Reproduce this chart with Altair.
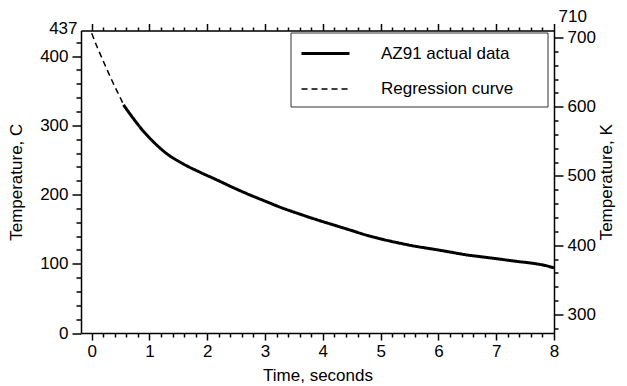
import altair as alt
import pandas as pd

# ---- data ----
series_names = ["AZ91 actual data", "Regression curve"]

actual_t = [0.55, 0.72, 0.89, 1.07, 1.3, 1.59, 1.88, 2.17, 2.45, 2.75, 3.0, 3.3, 3.61, 3.9,
            4.19, 4.5, 4.77, 5.05, 5.34, 5.62, 5.92, 6.2, 6.5, 6.8, 7.08, 7.35, 7.65, 7.85, 8.0]
actual_T = [329.5, 310, 292, 276, 259, 244, 232, 221, 210, 199, 190.5, 180.5, 171.5, 163.5,
            156, 148, 141, 135, 129.6, 125, 121, 117, 112.7, 109.5, 106.5, 103.5, 100.5, 97.5, 94]

reg_t = [0.0, 0.1, 0.2, 0.3, 0.4, 0.5, 0.55]
reg_T = [433, 412, 393, 374, 356, 339, 330]

x_ticks = [round(i * 0.2, 1) for i in range(41)]
c_ticks = list(range(0, 421, 20)) + [437]
k_ticks = list(range(280, 701, 20)) + [710]

df = pd.concat([
    pd.DataFrame({"t": actual_t, "T": actual_T, "series": series_names[0]}),
    pd.DataFrame({"t": reg_t, "T": reg_T, "series": series_names[1]}),
], ignore_index=True)
df["K"] = df["T"] + 273.15

FONT = "Liberation Sans"
FS = 17
x_dom = [-0.185, 8.0]

legend = alt.Legend(
    title=None, orient="none", legendX=209.5, legendY=2,
    symbolType="M-1,0H3.8", symbolSize=400, symbolStrokeColor="black",
    labelOffset=58, labelFontSize=FS, labelFont=FONT, labelColor="black",
    labelLimit=0, padding=9.5, rowPadding=16,
    strokeColor="#333333", fillColor="white",
    labelExpr="datum.label + '\u2800\u2800'",
)

axis_common = dict(
    grid=False, domainColor="black", domainWidth=1.5, tickColor="black", tickWidth=1.5,
    labelFont=FONT, labelFontSize=FS, labelColor="black", labelOverlap=False,
    labelFlush=False, titleFont=FONT, titleFontSize=FS, titleFontWeight="normal",
    titleColor="black",
)

lines = alt.Chart(df).mark_line(color="black", interpolate="monotone").encode(
    x=alt.X("t:Q", scale=alt.Scale(domain=x_dom, nice=False, zero=False),
            axis=alt.Axis(orient="bottom", values=x_ticks, title="Time, seconds",
                          labelExpr="datum.value % 1 == 0 ? format(datum.value, 'd') : ''",
                          tickSize={"condition": {"test": "datum.value % 1 == 0", "value": 7}, "value": 4},
                          labelPadding=3, titlePadding=8, **axis_common)),
    y=alt.Y("T:Q", scale=alt.Scale(domain=[0, 437], nice=False, zero=False),
            axis=alt.Axis(orient="left", values=c_ticks, title="Temperature, C",
                          labelExpr="(datum.value % 100 == 0 || datum.value == 437) ? datum.label : ''",
                          tickSize={"condition": [{"test": "datum.value == 437", "value": 0},
                                                  {"test": "datum.value % 100 == 0", "value": 9}],
                                    "value": 5},
                          labelOffset={"condition": {"test": "datum.value == 437", "value": -2}, "value": 0},
                          labelPadding=4, titlePadding=14, **axis_common)),
    strokeDash=alt.StrokeDash("series:N", scale=alt.Scale(domain=series_names, range=[[1, 0], [6, 4]]),
                              legend=legend),
    strokeWidth=alt.StrokeWidth("series:N", scale=alt.Scale(domain=series_names, range=[3, 1.5]),
                                legend=legend),
)

kelvin = alt.Chart(df).mark_line(opacity=0).encode(
    x=alt.X("t:Q", scale=alt.Scale(domain=x_dom, nice=False, zero=False),
            axis=alt.Axis(orient="top", values=x_ticks, title=None, labels=False,
                          tickSize={"condition": {"test": "datum.value % 1 == 0", "value": 7}, "value": 3.5},
                          **axis_common)),
    y=alt.Y("K:Q", scale=alt.Scale(domain=[273.15, 710.15], nice=False, zero=False),
            axis=alt.Axis(orient="right", values=k_ticks, title="Temperature, K", titleAngle=270,
                          labelExpr="(datum.value % 100 == 0 || datum.value == 710) ? datum.label : ''",
                          tickSize={"condition": [{"test": "datum.value == 710", "value": 0},
                                                  {"test": "datum.value % 100 == 0", "value": 9}],
                                    "value": 4},
                          labelOffset={"condition": {"test": "datum.value == 710", "value": -14}, "value": 0},
                          labelPadding=4, titlePadding=20, **axis_common)),
    detail="series:N",
)

chart = alt.layer(lines, kelvin).resolve_scale(x="independent", y="independent").properties(
    width=473, height=302.5,
    autosize=alt.AutoSizeParams(type="none"),
    padding={"left": 81, "top": 30.5, "right": 73, "bottom": 53},
).configure_view(stroke=None).configure(font=FONT)

chart.save("out.html", embed_options={"renderer": "svg", "actions": False})
